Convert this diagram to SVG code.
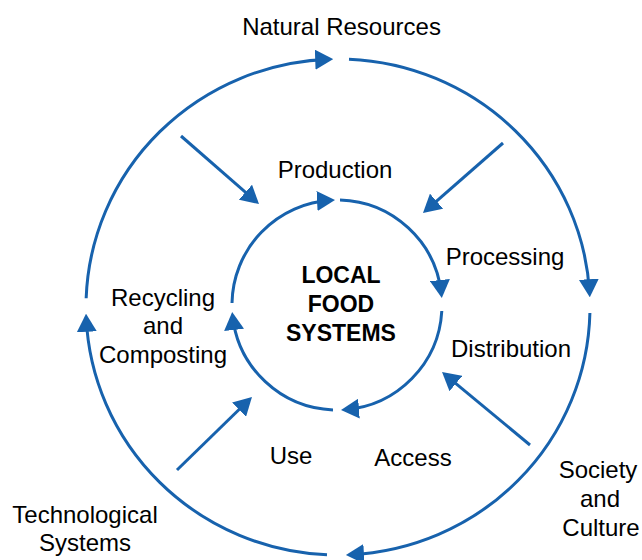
<svg xmlns="http://www.w3.org/2000/svg" width="642" height="560" viewBox="0 0 642 560">
<style>
.c{fill:none;stroke:#1762ad;stroke-width:3;marker-end:url(#ah)}
.t{font-family:"Liberation Sans",Arial,sans-serif;font-size:24px;fill:#000;text-anchor:middle}
.b{font-family:"Liberation Sans",Arial,sans-serif;font-size:23px;font-weight:bold;fill:#000;text-anchor:middle}
</style>
<defs>
<marker id="ah" markerUnits="userSpaceOnUse" markerWidth="18" markerHeight="20" viewBox="0 0 18 20" refX="14" refY="10" orient="auto">
<path d="M0,0 L18,10 L0,20 z" fill="#1762ad"/>
</marker>
</defs>
<rect width="642" height="560" fill="#fff"/>
<g id="connectors">
<path class="c" d="M86.15,298.3 A252,248 0 0 1 329.2,59.2"/>
<path class="c" d="M349,59.2 A252,248 0 0 1 589.6,293.2"/>
<path class="c" d="M589.9,313 A252,248 0 0 1 349.9,554.7"/>
<path class="c" d="M327,554.8 A252,248 0 0 1 86.2,317.8"/>
<path class="c" d="M232,303 A105,105 0 0 1 331,200.2"/>
<path class="c" d="M340,200 A105,105 0 0 1 441.4,294"/>
<path class="c" d="M441.8,311 A105,105 0 0 1 345,409.7"/>
<path class="c" d="M333,409.9 A105,105 0 0 1 232.6,316"/>
<path class="c" d="M181,136 L256,201.4"/>
<path class="c" d="M503,143 L426,210.4"/>
<path class="c" d="M177,470 L249.1,399.8"/>
<path class="c" d="M530,445 L445.1,374.6"/>
</g>
<g id="center"><text class="b" x="341" y="283">LOCAL</text><text class="b" x="341" y="312">FOOD</text><text class="b" x="341" y="341">SYSTEMS</text></g>
<g id="natural-resources"><text class="t" x="341.5" y="35">Natural Resources</text></g>
<g id="production"><text class="t" x="335" y="178">Production</text></g>
<g id="processing"><text class="t" x="505" y="265">Processing</text></g>
<g id="distribution"><text class="t" x="511" y="357">Distribution</text></g>
<g id="recycling"><text class="t" x="163" y="306">Recycling</text><text class="t" x="163" y="334">and</text><text class="t" x="163" y="363">Composting</text></g>
<g id="use"><text class="t" x="291" y="464">Use</text></g>
<g id="access"><text class="t" x="413" y="466">Access</text></g>
<g id="technological"><text class="t" x="85" y="523">Technological</text><text class="t" x="85" y="551">Systems</text></g>
<g id="society"><text class="t" x="598" y="478">Society</text><text class="t" x="600" y="507">and</text><text class="t" x="601" y="536">Culture</text></g>
</svg>
